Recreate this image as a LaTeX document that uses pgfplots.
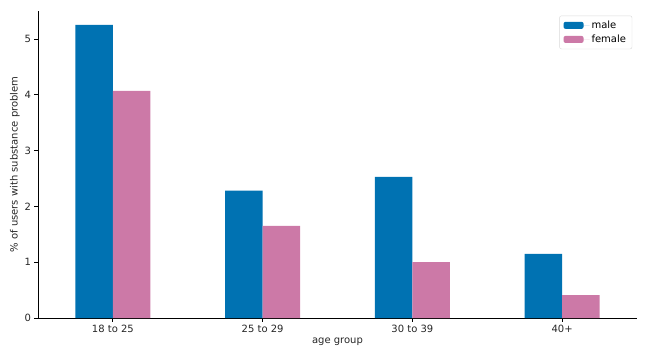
\documentclass[border=0pt]{standalone}
\usepackage{pgfplots}
\pgfplotsset{compat=1.18}
\usepackage{fontspec}
\setmainfont{DejaVu Sans}
\definecolor{cmale}{HTML}{0072B2}
\definecolor{cfemale}{HTML}{CC79A7}
\begin{document}
\fontsize{10bp}{12bp}\selectfont
\begin{tikzpicture}
\path (-38bp,-42bp) rectangle (610bp,318bp);
\begin{axis}[
  at={(0,0)}, anchor=south west,
  scale only axis, width=599bp, height=307bp,
  xmin=-0.5, xmax=3.5, ymin=0, ymax=5.5,
  axis x line*=bottom, axis y line*=left,
  axis line style={line width=0.8bp, black},
  tick align=outside, major tick length=3.5bp,
  tick style={black, line width=0.8bp},
  xtick={0,1,2,3},
  xticklabels={18 to 25, 25 to 29, 30 to 39, 40+},
  ytick={0,1,2,3,4,5},
  /pgf/number format/assume math mode=true,
  ticklabel style={font=\fontsize{10bp}{12bp}\selectfont, text=black!85},
  xlabel={age group}, ylabel={\% of users with substance problem},
  label style={font=\fontsize{10bp}{12bp}\selectfont, text=black!85},
  xlabel style={yshift=2bp},
  ylabel style={yshift=-2bp},
  ybar=0pt, bar width=0.25,
  legend style={at={(0.992,0.985)}, anchor=north east, draw=black!15, rounded corners=2bp,
    font=\fontsize{10bp}{12bp}\selectfont, row sep=1bp, inner xsep=4bp, inner ysep=3bp},
  legend cell align=left,
  legend image code/.code={\fill[#1] (0bp,-3.5bp) rectangle (20bp,3.5bp); \path (0bp,0bp) -- (26bp,0bp);},
]
\addplot[draw=none, fill=cmale] coordinates {(0,5.25) (1,2.28) (2,2.53) (3,1.15)};
\addplot[draw=none, fill=cfemale] coordinates {(0,4.07) (1,1.65) (2,1.00) (3,0.41)};
\legend{male, female}
\end{axis}
\end{tikzpicture}
\end{document}
